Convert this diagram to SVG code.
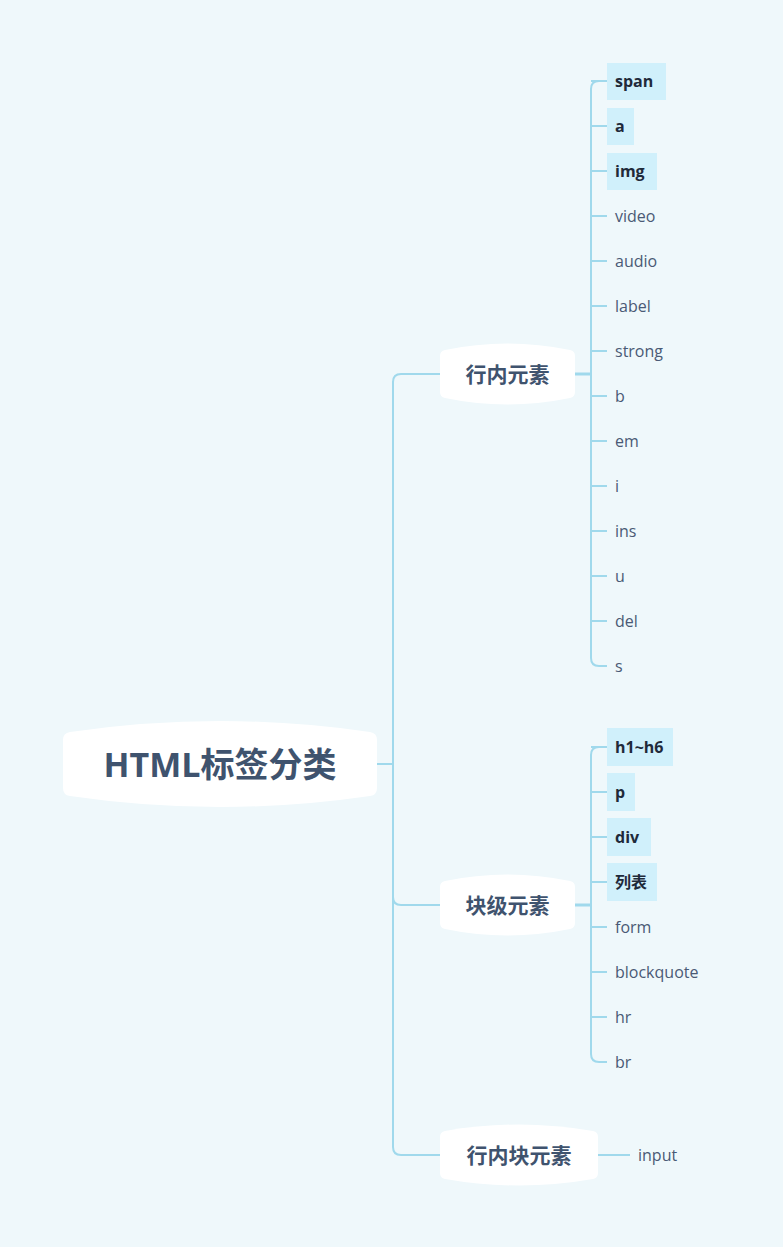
<svg xmlns="http://www.w3.org/2000/svg" width="783" height="1247" viewBox="0 0 783 1247">
<style>
.bg{fill:#eff8fb}
.nd{fill:#fff}
.ln{fill:none;stroke:#a0d9ec;stroke-width:2}
.hl{fill:#d0f0fb}
.t{font-family:"Open Sans","Noto Sans CJK SC",sans-serif;font-size:16px;fill:#4a5a75}
.b{font-family:"Open Sans","Noto Sans CJK SC",sans-serif;font-size:16px;font-weight:bold;fill:#1f2a3a}
.m{font-family:"Open Sans","Noto Sans CJK SC",sans-serif;font-size:21px;font-weight:bold;fill:#3f536e;text-anchor:middle}
.r{font-family:"Open Sans","Noto Sans CJK SC",sans-serif;font-size:34px;font-weight:bold;fill:#3f536e;text-anchor:middle}
</style>
<rect class="bg" width="783" height="1247"/>
<g id="connectors">
<path class="ln" d="M377,764 H393"/>
<path class="ln" d="M440,374 H401 Q393,374 393,382 V1147 Q393,1155 401,1155 H440"/>
<path class="ln" d="M393,905 Q393,905 393,897 M393,897 Q393,905 401,905 H440"/>
<path class="ln" d="M575,374 H591" style="stroke-width:3"/>
<path class="ln" d="M599,81 Q591,81 591,89 V658 Q591,666 599,666 H607"/>
<path class="ln" d="M591,81 H607 M591,126 H607 M591,171 H607 M591,216 H607 M591,261 H607 M591,306 H607 M591,351 H607 M591,396 H607 M591,441 H607 M591,486 H607 M591,531 H607 M591,576 H607 M591,621 H607"/>
<path class="ln" d="M575,905 H591" style="stroke-width:3"/>
<path class="ln" d="M599,747 Q591,747 591,755 V1054 Q591,1062 599,1062 H607"/>
<path class="ln" d="M591,747 H607 M591,792 H607 M591,837 H607 M591,882 H607 M591,927 H607 M591,972 H607 M591,1017 H607"/>
<path class="ln" d="M598,1155 H630"/>
</g>
<g id="root">
<path class="nd" d="M63,740 Q63,733 70,732 Q220,710 370,732 Q377,733 377,740 L377,788 Q377,795 370,796 Q220,818 70,796 Q63,795 63,788 Z"/>
<text class="r" x="220" y="777">HTML标签分类</text>
</g>
<g id="inline">
<path class="nd" d="M440,356 Q440,351 445,350 Q507,337 570,350 Q575,351 575,356 L575,392 Q575,397 570,398 Q507,411 445,398 Q440,397 440,392 Z"/>
<text class="m" x="507.5" y="382">行内元素</text>
</g>
<g id="block">
<path class="nd" d="M440,887 Q440,882 445,881 Q507,868 570,881 Q575,882 575,887 L575,923 Q575,928 570,929 Q507,942 445,929 Q440,928 440,923 Z"/>
<text class="m" x="507.5" y="913">块级元素</text>
</g>
<g id="inlineblock">
<path class="nd" d="M440,1137 Q440,1132 445,1131 Q519,1118 593,1131 Q598,1132 598,1137 L598,1173 Q598,1178 593,1179 Q519,1192 445,1179 Q440,1178 440,1173 Z"/>
<text class="m" x="519" y="1163">行内块元素</text>
</g>
<g id="leaf-span"><rect class="hl" x="607" y="63" width="59" height="37"/><text class="b" x="615" y="87">span</text></g>
<g id="leaf-a"><rect class="hl" x="607" y="108" width="27" height="37"/><text class="b" x="615" y="132">a</text></g>
<g id="leaf-img"><rect class="hl" x="607" y="153" width="50" height="37"/><text class="b" x="615" y="177">img</text></g>
<g id="leaf-video"><text class="t" x="615" y="222">video</text></g>
<g id="leaf-audio"><text class="t" x="615" y="267">audio</text></g>
<g id="leaf-label"><text class="t" x="615" y="312">label</text></g>
<g id="leaf-strong"><text class="t" x="615" y="357">strong</text></g>
<g id="leaf-b"><text class="t" x="615" y="402">b</text></g>
<g id="leaf-em"><text class="t" x="615" y="447">em</text></g>
<g id="leaf-i"><text class="t" x="615" y="492">i</text></g>
<g id="leaf-ins"><text class="t" x="615" y="537">ins</text></g>
<g id="leaf-u"><text class="t" x="615" y="582">u</text></g>
<g id="leaf-del"><text class="t" x="615" y="627">del</text></g>
<g id="leaf-s"><text class="t" x="615" y="672">s</text></g>
<g id="leaf-h"><rect class="hl" x="607" y="728" width="66" height="38"/><text class="b" x="615" y="753">h1~h6</text></g>
<g id="leaf-p"><rect class="hl" x="607" y="773" width="28" height="38"/><text class="b" x="615" y="798">p</text></g>
<g id="leaf-div"><rect class="hl" x="607" y="818" width="44" height="38"/><text class="b" x="615" y="843">div</text></g>
<g id="leaf-list"><rect class="hl" x="607" y="863" width="50" height="38"/><text class="b" x="615" y="888">列表</text></g>
<g id="leaf-form"><text class="t" x="615" y="933">form</text></g>
<g id="leaf-bq"><text class="t" x="615" y="978">blockquote</text></g>
<g id="leaf-hr"><text class="t" x="615" y="1023">hr</text></g>
<g id="leaf-br"><text class="t" x="615" y="1068">br</text></g>
<g id="leaf-input"><text class="t" x="638" y="1161">input</text></g>
</svg>
